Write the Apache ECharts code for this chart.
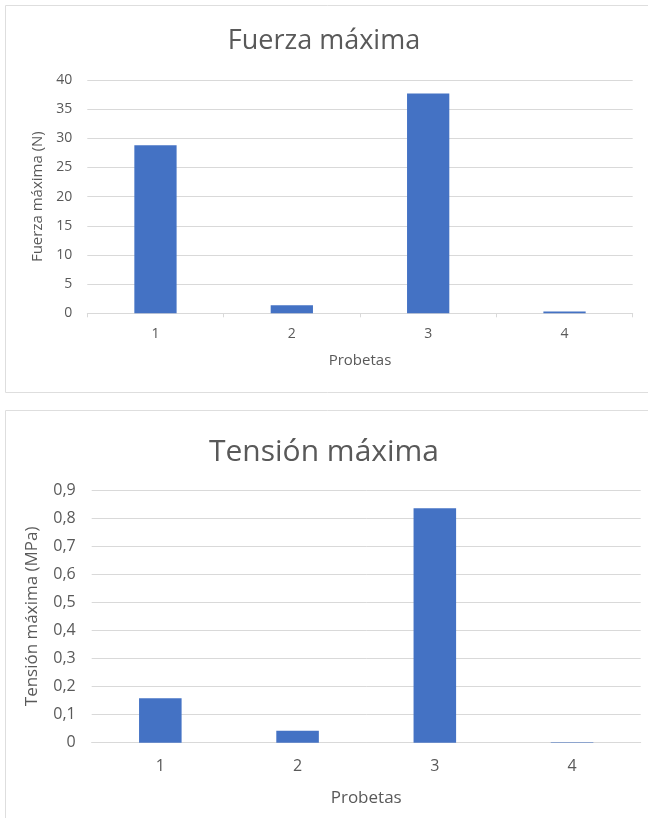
<!DOCTYPE html>
<html>
<head>
<meta charset="utf-8">
<script src="https://cdn.jsdelivr.net/npm/echarts@6/dist/echarts.min.js"></script>
<style>
html,body{margin:0;padding:0;background:#fff;}
#c{width:648px;height:818px;}
</style>
</head>
<body>
<div id="c"></div>
<script>
const categories = ['1', '2', '3', '4'];
const fuerzaMaxima = [28.8, 1.4, 37.7, 0.3];
const tensionMaxima = [0.158, 0.043, 0.835, 0.002];
const fuerzaTicks = { min: 0, max: 40, interval: 5 };
const tensionTicks = { min: 0, max: 0.9, interval: 0.1 };

const FONT = '"Open Sans", "Noto Sans", sans-serif';
const TXT = '#595959';
const GRID = '#d9d9d9';
const BAR = '#4472C4';

const chart = echarts.init(document.getElementById('c'), null, { renderer: 'canvas' });
chart.setOption({
  animation: false,
  backgroundColor: '#fff',
  graphic: [
    { type: 'rect', shape: { x: 5.5, y: 5.5, width: 660, height: 387 }, style: { fill: 'none', stroke: '#dedede', lineWidth: 1 }, z: -1 },
    { type: 'rect', shape: { x: 5.5, y: 410.5, width: 660, height: 420 }, style: { fill: 'none', stroke: '#dedede', lineWidth: 1 }, z: -1 }
  ],
  title: [
    { text: 'Fuerza máxima', left: 'center', top: 23, textStyle: { fontFamily: FONT, fontWeight: 'normal', fontSize: 27, color: TXT } },
    { text: 'Tensión máxima', left: 'center', top: 432, textStyle: { fontFamily: FONT, fontWeight: 'normal', fontSize: 30, color: TXT } }
  ],
  grid: [
    { left: 87.3, right: 15.3, top: 80, height: 233.3 },
    { left: 91.7, right: 7.3, top: 490, height: 252.7 }
  ],
  xAxis: [
    {
      gridIndex: 0, type: 'category', data: categories,
      name: 'Probetas', nameLocation: 'middle', nameGap: 40,
      nameTextStyle: { fontFamily: FONT, fontSize: 15, color: TXT },
      axisLine: { lineStyle: { color: GRID } },
      axisTick: { show: true, length: 4, lineStyle: { color: GRID } },
      axisLabel: { fontFamily: FONT, fontSize: 14, color: TXT, margin: 14 }
    },
    {
      gridIndex: 1, type: 'category', data: categories,
      name: 'Probetas', nameLocation: 'middle', nameGap: 47,
      nameTextStyle: { fontFamily: FONT, fontSize: 17, color: TXT },
      axisLine: { lineStyle: { color: GRID } },
      axisTick: { show: false },
      axisLabel: { fontFamily: FONT, fontSize: 16, color: TXT, margin: 16 }
    }
  ],
  yAxis: [
    {
      gridIndex: 0, type: 'value', min: fuerzaTicks.min, max: fuerzaTicks.max, interval: fuerzaTicks.interval,
      name: 'Fuerza máxima (N)', nameLocation: 'middle', nameGap: 35,
      nameTextStyle: { fontFamily: FONT, fontSize: 15, color: TXT },
      axisLine: { show: false }, axisTick: { show: false },
      axisLabel: { fontFamily: FONT, fontSize: 14, color: TXT, margin: 15 },
      splitLine: { lineStyle: { color: GRID } }
    },
    {
      gridIndex: 1, type: 'value', min: tensionTicks.min, max: tensionTicks.max, interval: tensionTicks.interval,
      name: 'Tensión máxima (MPa)', nameLocation: 'middle', nameGap: 51,
      nameTextStyle: { fontFamily: FONT, fontSize: 17, color: TXT },
      axisLine: { show: false }, axisTick: { show: false },
      axisLabel: { fontFamily: FONT, fontSize: 16, color: TXT, margin: 16,
        formatter: v => v === 0 ? '0' : v.toFixed(1).replace('.', ',') },
      splitLine: { lineStyle: { color: GRID } }
    }
  ],
  series: [
    { type: 'bar', xAxisIndex: 0, yAxisIndex: 0, data: fuerzaMaxima, barCategoryGap: '69%',
      itemStyle: { color: BAR } },
    { type: 'bar', xAxisIndex: 1, yAxisIndex: 1, data: tensionMaxima, barCategoryGap: '69%',
      itemStyle: { color: BAR } }
  ]
});
</script>
</body>
</html>
